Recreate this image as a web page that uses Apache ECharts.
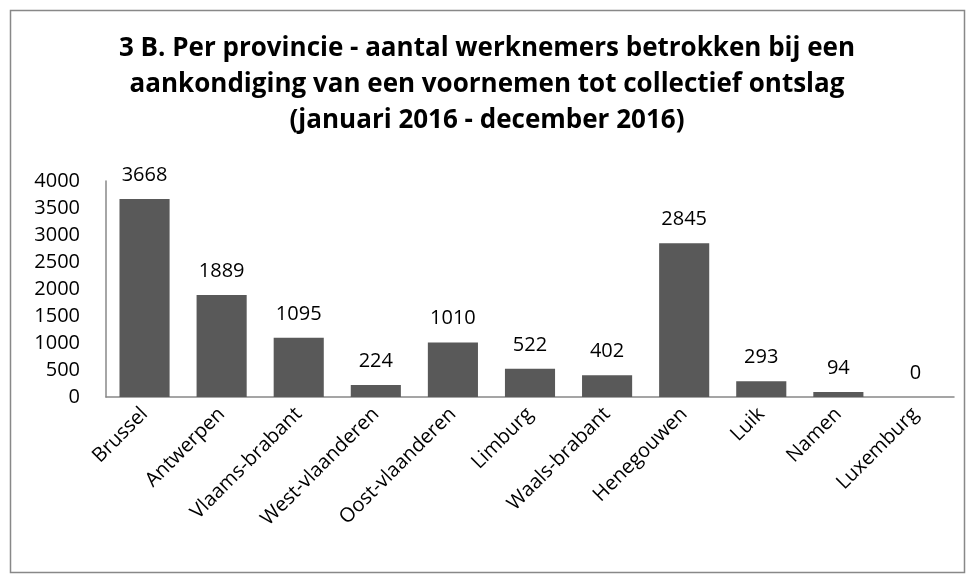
<!DOCTYPE html>
<html>
<head>
<meta charset="utf-8">
<script src="https://cdn.jsdelivr.net/npm/echarts@6/dist/echarts.min.js"></script>
<style>
  html, body { margin: 0; padding: 0; background: #fff; }
  #chart { width: 974px; height: 583px; }
</style>
</head>
<body>
<div id="chart"></div>
<script>
// provincies en aantallen
var provincies = ['Brussel', 'Antwerpen', 'Vlaams-brabant', 'West-vlaanderen', 'Oost-vlaanderen',
  'Limburg', 'Waals-brabant', 'Henegouwen', 'Luik', 'Namen', 'Luxemburg'];
var werknemers = [3668, 1889, 1095, 224, 1010, 522, 402, 2845, 293, 94, 0];
var yTicks = [0, 500, 1000, 1500, 2000, 2500, 3000, 3500, 4000];

var font = '"Open Sans", "Noto Sans", sans-serif';
var chart = echarts.init(document.getElementById('chart'));
var option = {
  backgroundColor: '#ffffff',
  animation: false,
  title: {
    text: '3 B. Per provincie - aantal werknemers betrokken bij een\naankondiging van een voornemen tot collectief ontslag\n(januari 2016 - december 2016)',
    left: 'center',
    top: 26,
    textStyle: {
      fontFamily: font,
      fontSize: 26,
      fontWeight: 'bold',
      color: '#000',
      lineHeight: 36
    }
  },
  graphic: [{
    type: 'rect',
    shape: { x: 10.5, y: 10.5, width: 954, height: 562 },
    style: { fill: 'none', stroke: '#888', lineWidth: 1.5 },
    silent: true
  }],
  grid: { left: 106, right: 20, top: 181, bottom: 186 },
  xAxis: {
    type: 'category',
    data: provincies,
    axisLine: { lineStyle: { color: '#888', width: 1.5 } },
    axisTick: { show: false },
    axisLabel: {
      interval: 0,
      rotate: 45,
      margin: 14,
      fontFamily: font,
      fontSize: 20,
      color: '#000'
    }
  },
  yAxis: {
    type: 'value',
    min: yTicks[0],
    max: yTicks[yTicks.length - 1],
    interval: 500,
    axisLine: { show: true, lineStyle: { color: '#888', width: 1.5 } },
    axisTick: { show: false },
    splitLine: { show: false },
    axisLabel: {
      margin: 26,
      fontFamily: font,
      fontSize: 20,
      color: '#000',
      formatter: function (v) { return String(v); }
    }
  },
  series: [{
    type: 'bar',
    data: werknemers,
    barCategoryGap: '35%',
    itemStyle: { color: '#595959' },
    label: {
      show: true,
      position: 'top',
      distance: 14,
      fontFamily: font,
      fontSize: 20,
      color: '#000'
    }
  }]
};
chart.setOption(option);
</script>
</body>
</html>
